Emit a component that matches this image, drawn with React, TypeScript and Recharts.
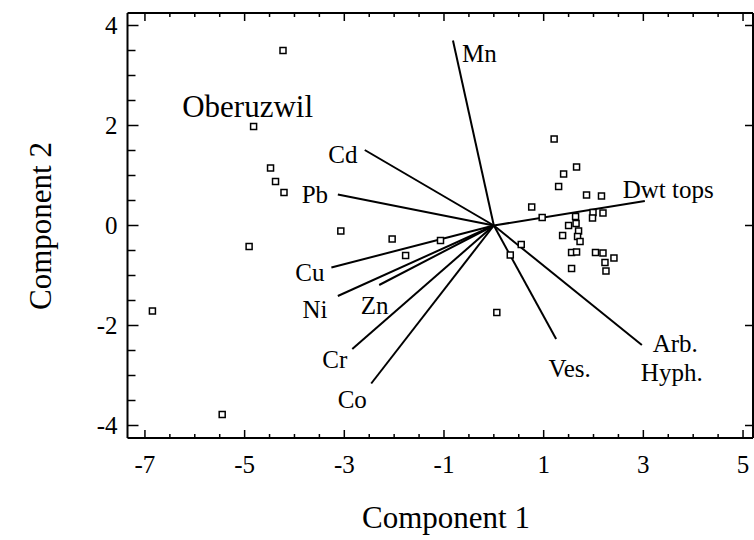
import { ScatterChart, Scatter, XAxis, YAxis, ReferenceLine } from 'recharts';

// sample scores (component 1, component 2)
const sampleX = [
  -4.23, -4.82, -4.48, -4.38, -4.21, -4.91, -3.07, -2.04, -1.77, -1.07, -6.85, -5.45, 0.06, 0.33, 0.55,
  1.21, 1.66, 1.4, 1.3, 1.86, 2.16, 0.76, 0.97, 1.64, 1.99, 1.98, 2.19, 1.5, 1.65, 1.7, 1.38, 1.68, 1.73,
  1.56, 1.66, 2.04, 2.19, 2.41, 2.23, 2.25, 1.56,
];
const sampleY = [
  3.5, 1.98, 1.15, 0.88, 0.66, -0.42, -0.11, -0.27, -0.6, -0.3, -1.71, -3.78, -1.74, -0.59, -0.38,
  1.73, 1.17, 1.03, 0.78, 0.61, 0.59, 0.37, 0.16, 0.18, 0.26, 0.15, 0.25, 0.0, 0.04, -0.11, -0.2, -0.22, -0.32,
  -0.54, -0.53, -0.54, -0.55, -0.65, -0.74, -0.91, -0.86,
];

// loading vectors (end points, all start at origin)
const loadingNames = ['Cd', 'Pb', 'Cu', 'Ni', 'Zn', 'Cr', 'Co', 'Mn', 'Dwt tops', 'Ves.', 'Arb. Hyph.'];
const loadingX = [-2.59, -3.13, -3.26, -3.13, -2.3, -2.84, -2.46, -0.82, 3.03, 1.25, 2.97];
const loadingY = [1.51, 0.62, -0.84, -1.41, -1.19, -2.47, -3.16, 3.7, 0.49, -2.27, -2.39];

// text labels in the plot
const labelNames = ['Cd', 'Pb', 'Cu', 'Ni', 'Zn', 'Cr', 'Co', 'Mn', 'Dwt tops', 'Ves.', 'Arb.', 'Hyph.'];
const labelX = [-3.03, -3.59, -3.69, -3.59, -2.39, -3.19, -2.84, -0.29, 3.5, 1.52, 3.64, 3.57];
const labelY = [1.43, 0.63, -0.94, -1.67, -1.59, -2.68, -3.48, 3.45, 0.73, -2.86, -2.36, -2.94];
const siteName = 'Oberuzwil';
const siteX = -4.94;
const siteY = 2.39;

const X_MIN = -7.35;
const X_MAX = 5.2;
const Y_MIN = -4.25;
const Y_MAX = 4.25;
const xTicks = [-7, -6.5, -6, -5.5, -5, -4.5, -4, -3.5, -3, -2.5, -2, -1.5, -1, -0.5, 0, 0.5, 1, 1.5, 2, 2.5, 3, 3.5, 4, 4.5, 5];
const xLabels = [-7, -5, -3, -1, 1, 3, 5];
const yTicks = [-4, -3.5, -3, -2.5, -2, -1.5, -1, -0.5, 0, 0.5, 1, 1.5, 2, 2.5, 3, 3.5, 4];
const yLabels = [-4, -2, 0, 2, 4];

const samples = sampleX.map((x, i) => ({ x, y: sampleY[i] }));
const labels = labelNames.map((name, i) => ({ x: labelX[i], y: labelY[i], name }));
const site = [{ x: siteX, y: siteY, name: siteName }];
const topTicks = xTicks.map((x) => ({ x, y: Y_MAX, major: xLabels.includes(x) }));
const rightTicks = yLabels.map((y) => ({ x: X_MAX, y }));

const FONT = 'serif';
const txt = (size: number) => ({ fontFamily: FONT, fontSize: size, fill: '#000' });

const SquareDot = (props: any) => {
  const { cx, cy } = props;
  if (cx == null || cy == null) return null;
  return <rect x={cx - 3} y={cy - 3} width={6} height={6} fill="#fff" stroke="#000" strokeWidth={1.5} />;
};

const textShape = (size: number) => (props: any) => {
  const { cx, cy, payload } = props;
  return (
    <text x={cx} y={cy} textAnchor="middle" dominantBaseline="central" style={txt(size)}>
      {payload.name}
    </text>
  );
};

const TopTickMark = (props: any) => {
  const { cx, cy, payload } = props;
  return <line x1={cx} x2={cx} y1={cy} y2={cy + (payload.major ? 8 : 4)} stroke="#000" strokeWidth={1.5} />;
};

const RightTickMark = (props: any) => {
  const { cx, cy } = props;
  return <line x1={cx} x2={cx - 8} y1={cy} y2={cy} stroke="#000" strokeWidth={1.5} />;
};

const BottomTick = (props: any) => {
  const { x, y, payload } = props;
  const major = xLabels.includes(payload.value);
  return (
    <g>
      <line x1={x} x2={x} y1={y} y2={y - (major ? 8 : 4)} stroke="#000" strokeWidth={1.5} />
      {major && (
        <text x={x} y={y + 35} textAnchor="middle" style={txt(25)}>
          {String(payload.value)}
        </text>
      )}
    </g>
  );
};

const LeftTick = (props: any) => {
  const { x, y, payload } = props;
  const major = yLabels.includes(payload.value);
  return (
    <g>
      <line x1={x} x2={x + (major ? 11 : 8)} y1={y} y2={y} stroke="#000" strokeWidth={1.5} />
      {major && (
        <text x={x - 10} y={y} textAnchor="end" dominantBaseline="central" style={txt(25)}>
          {String(payload.value)}
        </text>
      )}
    </g>
  );
};

export default function App() {
  return (
    <div style={{ position: 'absolute', left: 0, top: 0, background: '#fff' }}>
      <ScatterChart width={754} height={540} margin={{ top: 13, right: 1, bottom: 0, left: 0 }}>
        <XAxis
          type="number"
          dataKey="x"
          domain={[X_MIN, X_MAX]}
          allowDataOverflow
          ticks={xTicks}
          interval={0}
          tickSize={0}
          tickMargin={0}
          tickLine={false}
          tick={BottomTick}
          height={102}
          axisLine={{ stroke: '#000', strokeWidth: 2 }}
          label={() => (
            <text x={446} y={528} textAnchor="middle" style={txt(31)}>
              Component 1
            </text>
          )}
        />
        <YAxis
          type="number"
          dataKey="y"
          domain={[Y_MIN, Y_MAX]}
          allowDataOverflow
          ticks={yTicks}
          interval={0}
          tickSize={0}
          tickMargin={0}
          tickLine={false}
          tick={LeftTick}
          width={127.5}
          axisLine={{ stroke: '#000', strokeWidth: 2 }}
          label={() => (
            <text
              x={40}
              y={226}
              transform="rotate(-90, 40, 226)"
              textAnchor="middle"
              dominantBaseline="central"
              style={txt(31)}
            >
              Component 2
            </text>
          )}
        />
        <ReferenceLine y={Y_MAX} stroke="#000" strokeWidth={2} ifOverflow="visible" />
        <ReferenceLine x={X_MAX} stroke="#000" strokeWidth={2} ifOverflow="visible" />
        {loadingNames.map((name, i) => (
          <ReferenceLine
            key={name}
            segment={[
              { x: 0, y: 0 },
              { x: loadingX[i], y: loadingY[i] },
            ]}
            stroke="#000"
            strokeWidth={2}
          />
        ))}
        <Scatter data={topTicks} shape={TopTickMark} isAnimationActive={false} />
        <Scatter data={rightTicks} shape={RightTickMark} isAnimationActive={false} />
        <Scatter data={samples} shape={SquareDot} isAnimationActive={false} />
        <Scatter data={labels} shape={textShape(25)} isAnimationActive={false} />
        <Scatter data={site} shape={textShape(31)} isAnimationActive={false} />
      </ScatterChart>
    </div>
  );
}
